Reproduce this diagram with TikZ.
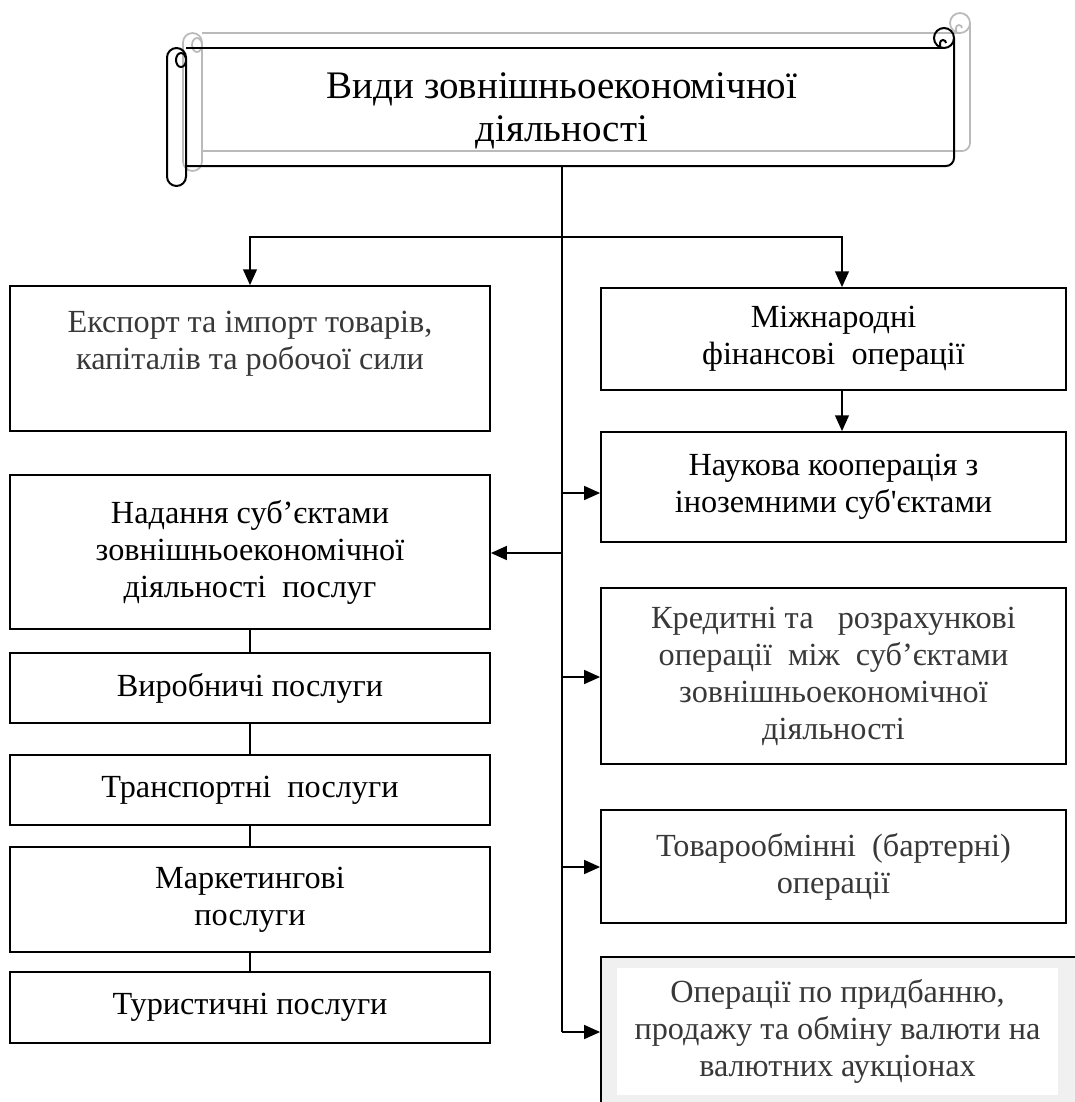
\documentclass[tikz,border=0pt]{standalone}
\usepackage{fontspec}
\setmainfont{Liberation Serif}[Ligatures=TeXOff]
\usetikzlibrary{arrows.meta,positioning,calc}
\newcommand{\boxfont}{\fontsize{12.9}{14.8}\selectfont}
\newcommand{\titlefont}{\fontsize{15.6}{17.4}\selectfont}
\colorlet{shadowgray}{black!27}
\colorlet{textgray}{black!78}
\colorlet{framegray}{black!6}
\tikzset{
  box/.style={draw, line width=0.6pt, align=center, inner sep=0pt, font=\boxfont},
  leftbox/.style={box, minimum width=192pt},
  rightbox/.style={box, minimum width=186pt},
  link/.style={line width=1.1pt},
  arrow/.style={link, -{Triangle[length=6.4pt, width=5.4pt]}},
  thin link/.style={line width=0.5pt},
}
% scroll outline, in picture units
\newcommand{\drawscroll}[1]{%
  \draw[#1, rounded corners=3.8pt] (167,48) rectangle (186,186);
  \draw[#1] (181,60) ellipse [x radius=2pt, y radius=2.8pt];
  \draw[#1] (186,48) -- (944,48);
  \draw[#1] (944,38) circle [radius=4pt];
  \draw[#1] (940,48) -- (940,43) arc [start angle=180, end angle=0, radius=1.2pt];
  \draw[#1, rounded corners=3.2pt] (954,38) -- (954,166) -- (186,166);
}

\begin{document}
\begin{tikzpicture}[x=0.4pt, y=-0.4pt]
  \useasboundingbox (0,0) rectangle (1075,1102);

  % Title scroll
  \begin{scope}[shift={(16,-15)}]
    \drawscroll{shadowgray, line width=0.7pt}
  \end{scope}
  \drawscroll{black, line width=0.8pt}
  \node[font=\titlefont, align=center, minimum width=300pt, minimum height=44pt, inner sep=0pt] (title) at (562,111)
    {Види зовнішньоекономічної\\діяльності};

  % Left column
  \node[leftbox, minimum height=58pt, text=textgray] (exp) at (250,358.5)
    {Експорт та імпорт товарів,\\капіталів та робочої сили\\\mbox{}};
  \node[leftbox, minimum height=61.6pt] (serv) at (250,552)
    {Надання суб’єктами\\зовнішньоекономічної\\діяльності\ \ послуг};
  \node[leftbox, minimum height=28pt] (prod) at (250,688) {Виробничі послуги};
  \node[leftbox, minimum height=28pt] (trans) at (250,790) {Транспортні\ \ послуги};
  \node[leftbox, minimum height=42pt] (mark) at (250,899.5) {Маркетингові\\послуги};
  \node[leftbox, minimum height=28.4pt] (tour) at (250,1007.5) {Туристичні послуги};

  % Right column
  \node[rightbox, minimum height=40.8pt] (fin) at (833.5,339)
    {Міжнародні\\фінансові\ \ операції};
  \node[rightbox, minimum height=44pt] (sci) at (833.5,487)
    {Наукова кооперація з\\іноземними суб'єктами};
  \node[rightbox, minimum height=70.4pt, text=textgray] (cred) at (833.5,676)
    {Кредитні та\ \ \ розрахункові\\операції\ \ між\ \ суб’єктами\\зовнішньоекономічної\\діяльності};
  \node[rightbox, minimum height=45.2pt, text=textgray] (barter) at (833.5,866.5)
    {Товарообмінні\ \ (бартерні)\\операції};
  \node[draw, fill=framegray, line width=0.6pt, minimum width=191.6pt, minimum height=60.4pt, inner sep=0pt] (currframe) at (840.5,1032.5) {};
  \node[fill=white, font=\boxfont, align=center, text=textgray, minimum width=176.4pt, minimum height=50.8pt, inner sep=0pt] (curr) at (837.5,1031.5)
    {Операції по придбанню,\\продажу та обміну валюти на\\валютних аукціонах};

  % Trunk and branch points
  \coordinate (split) at (562,237);
  \coordinate (t1) at (562,493);
  \coordinate (t2) at (562,553);
  \coordinate (t3) at (562,677);
  \coordinate (t4) at (562,867);
  \coordinate (t5) at (562,1032);
  \draw[link] (title.south) -- (t5);

  % Arrows
  \draw[arrow] (split) -| (exp.north);
  \draw[arrow] (split) -| ([xshift=3.4pt]fin.north);
  \draw[arrow] ([xshift=3.4pt]fin.south) -- ([xshift=3.4pt]sci.north);
  \draw[arrow] (t1) -- (t1 -| sci.west);
  \draw[arrow] (t2) -- (t2 -| serv.east);
  \draw[arrow] (t3) -- (t3 -| cred.west);
  \draw[arrow] (t4) -- (t4 -| barter.west);
  \draw[arrow] (t5) -- (t5 -| currframe.west);

  % Service chain
  \draw[thin link] (serv) -- (prod);
  \draw[thin link] (prod) -- (trans);
  \draw[thin link] (trans) -- (mark);
  \draw[thin link] (mark) -- (tour);
\end{tikzpicture}
\end{document}
